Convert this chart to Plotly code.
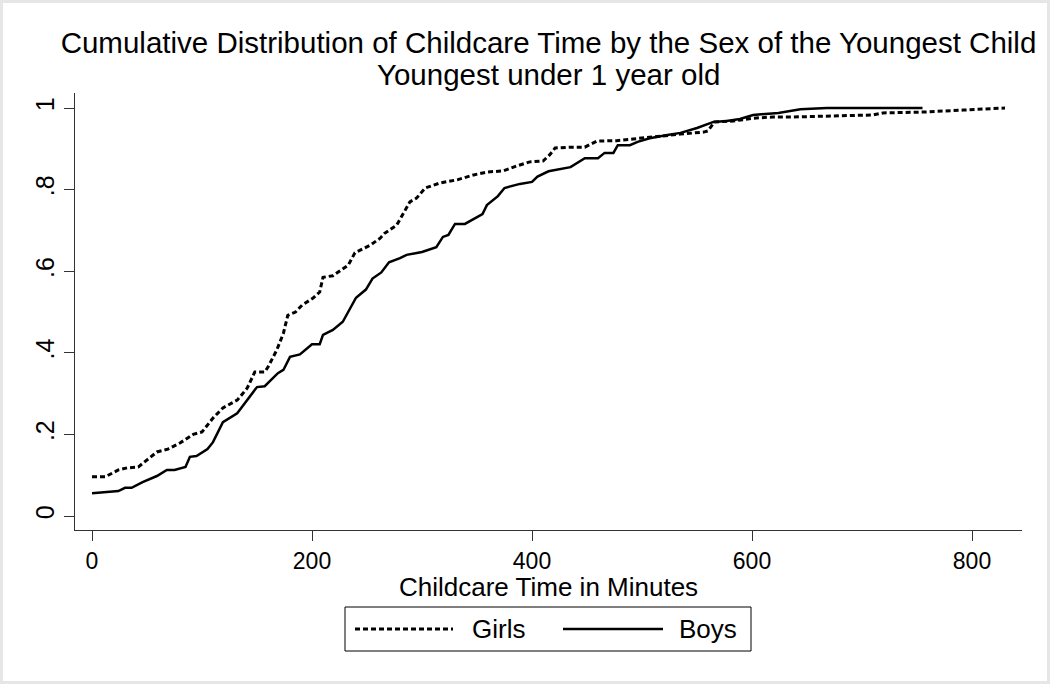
import plotly.graph_objects as go

# Girls (dashed) cumulative distribution
girls_min = [0, 12, 24, 32, 42, 59, 69, 80, 92, 100, 110, 119, 132, 141, 148, 157, 160, 168, 174, 178,
             185, 191, 201, 207, 210, 219, 233, 239, 253, 262, 266, 277, 289, 295, 303, 316, 332, 347,
             359, 374, 386, 398, 410, 416, 421, 435, 448, 459, 477, 498, 514, 535, 556, 560, 566, 583,
             601, 619, 637, 710, 719, 755, 792, 830]
girls_cdf = [0.096, 0.096, 0.113, 0.118, 0.120, 0.157, 0.164, 0.179, 0.200, 0.206, 0.240, 0.265, 0.284,
             0.313, 0.353, 0.353, 0.365, 0.407, 0.448, 0.492, 0.500, 0.517, 0.534, 0.549, 0.585, 0.589,
             0.615, 0.645, 0.664, 0.681, 0.693, 0.713, 0.770, 0.779, 0.804, 0.816, 0.824, 0.836, 0.843,
             0.846, 0.858, 0.868, 0.870, 0.885, 0.902, 0.904, 0.904, 0.919, 0.920, 0.926, 0.931, 0.936,
             0.941, 0.944, 0.966, 0.968, 0.975, 0.978, 0.978, 0.983, 0.988, 0.990, 0.995, 1.000]

# Boys (solid) cumulative distribution
boys_min = [0, 24, 30, 36, 46, 59, 68, 75, 85, 89, 95, 105, 110, 119, 132, 141, 150, 157, 169, 174,
            180, 189, 200, 207, 210, 219, 228, 240, 249, 255, 263, 270, 280, 286, 300, 313, 319, 324,
            330, 339, 355, 359, 369, 375, 389, 400, 405, 415, 424, 435, 448, 460, 466, 474, 478, 489,
            496, 507, 523, 535, 550, 565, 577, 589, 601, 624, 644, 668, 755]
boys_cdf = [0.056, 0.061, 0.069, 0.069, 0.083, 0.098, 0.113, 0.113, 0.120, 0.145, 0.147, 0.164, 0.181,
            0.230, 0.252, 0.284, 0.316, 0.318, 0.350, 0.358, 0.390, 0.396, 0.421, 0.421, 0.444, 0.456,
            0.476, 0.535, 0.555, 0.582, 0.597, 0.622, 0.632, 0.640, 0.647, 0.659, 0.684, 0.689, 0.716,
            0.716, 0.740, 0.762, 0.784, 0.804, 0.814, 0.819, 0.832, 0.845, 0.850, 0.855, 0.877, 0.877,
            0.890, 0.890, 0.909, 0.909, 0.917, 0.926, 0.934, 0.939, 0.951, 0.966, 0.968, 0.973, 0.983,
            0.988, 0.997, 1.000, 1.000]

x_ticks = [0, 200, 400, 600, 800]
y_ticks = [0, 0.2, 0.4, 0.6, 0.8, 1.0]
y_tick_labels = ["0", ".2", ".4", ".6", ".8", "1"]
series_names = ["Girls", "Boys"]

FONT = "Liberation Sans, Arial, sans-serif"
AX = "#333333"
GIRLS_LINE = dict(color="black", width=3, dash="5px,3px")
BOYS_LINE = dict(color="black", width=2.5)

# plot area in pixels: x 75..1022, y 93..530
L, R, T, B = 75, 1022, 93, 530
PW, PH = R - L, B - T


def px(xp):
    return (xp - L) / PW


def py(yp):
    return (B - yp) / PH


fig = go.Figure()
fig.add_trace(go.Scatter(x=girls_min, y=girls_cdf, mode="lines", name=series_names[0],
                         line=GIRLS_LINE, showlegend=False))
fig.add_trace(go.Scatter(x=boys_min, y=boys_cdf, mode="lines", name=series_names[1],
                         line=BOYS_LINE, showlegend=False))

shapes = [
    # light grey frame round the figure
    dict(type="rect", xref="paper", yref="paper", x0=px(0), x1=px(1050), y0=py(684), y1=py(0),
         line=dict(color="#e6e6e6", width=6), fillcolor="rgba(0,0,0,0)", layer="below"),
    # legend box
    dict(type="rect", xref="paper", yref="paper", x0=px(345), x1=px(751), y0=py(651), y1=py(607),
         line=dict(color="black", width=1), fillcolor="white"),
    dict(type="line", xref="paper", yref="paper", x0=px(355), x1=px(453), y0=py(629), y1=py(629),
         line=GIRLS_LINE),
    dict(type="line", xref="paper", yref="paper", x0=px(563), x1=px(663), y0=py(629), y1=py(629),
         line=BOYS_LINE),
]

annotations = [
    dict(text="Youngest under 1 year old", xref="paper", yref="paper",
         x=0.5, y=py(75), xanchor="center", yanchor="middle",
         showarrow=False, font=dict(size=29.5, family=FONT, color="black")),
    dict(text="Childcare Time in Minutes", xref="paper", yref="paper",
         x=0.5, y=py(587), xanchor="center", yanchor="middle",
         showarrow=False, font=dict(size=26, family=FONT, color="black")),
    dict(text=series_names[0], xref="paper", yref="paper", x=px(470), y=py(629),
         xanchor="left", yanchor="middle", showarrow=False,
         font=dict(size=26, family=FONT, color="black")),
    dict(text=series_names[1], xref="paper", yref="paper", x=px(677), y=py(629),
         xanchor="left", yanchor="middle", showarrow=False,
         font=dict(size=26, family=FONT, color="black")),
]

fig.update_layout(
    width=1050, height=684,
    paper_bgcolor="white", plot_bgcolor="white",
    margin=dict(l=L, r=1050 - R, t=T, b=684 - B, autoexpand=False),
    font=dict(family=FONT, color="black", size=24),
    title=dict(text="Cumulative Distribution of Childcare Time by the Sex of the Youngest Child",
               x=0.5, xref="paper", xanchor="center", y=1 - 43 / 684, yref="container",
               yanchor="middle", font=dict(size=29.5, family=FONT, color="black")),
    showlegend=False,
    xaxis=dict(range=[-15.45, 845.45], tickvals=x_ticks, ticks="outside", ticklen=10,
               tickcolor=AX, showline=True, linecolor=AX, linewidth=1, showgrid=False,
               zeroline=False, tickfont=dict(size=23), automargin=False),
    yaxis=dict(range=[-0.0343, 1.0368], tickvals=y_ticks, ticktext=y_tick_labels,
               ticks="outside", ticklen=10, tickcolor=AX, showline=True, linecolor=AX,
               linewidth=1, showgrid=False, zeroline=False, tickangle=-90,
               tickfont=dict(size=25), automargin=False),
    annotations=annotations,
    shapes=shapes,
)

fig.write_html("out.html", post_script="document.body.style.margin='0';",
               config={"displayModeBar": False})
